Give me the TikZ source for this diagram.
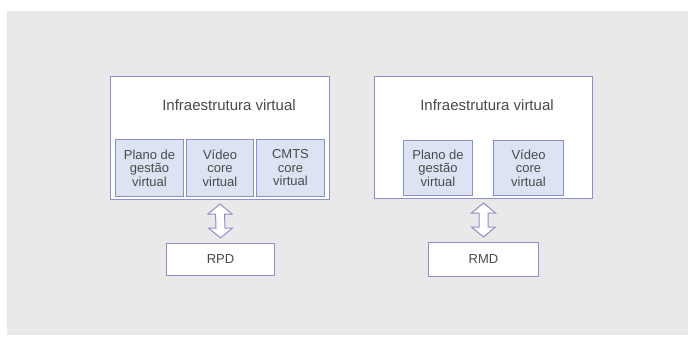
\documentclass[tikz,border=0pt]{standalone}
\usepackage{fontspec}
\setmainfont{Liberation Sans}
\usetikzlibrary{calc}
\definecolor{bg}{HTML}{E9E9E9}
\definecolor{bord}{HTML}{8C90C8}
\definecolor{subfill}{HTML}{DCE4F3}
\definecolor{txt}{HTML}{4A4A4A}
\begin{document}
\begin{tikzpicture}[x=1pt,y=-1pt,
  outerbox/.style={draw=bord,fill=white,line width=1pt,anchor=north west,inner sep=0pt},
  subbox/.style={draw=bord,fill=subfill,line width=1pt,anchor=north west,inner sep=0pt,
    text=txt,font=\fontsize{13}{13.5}\selectfont,align=center},
  devbox/.style={draw=bord,fill=white,line width=1pt,anchor=north west,inner sep=0pt,
    text=txt,font=\fontsize{13}{14}\selectfont},
  title/.style={text=txt,font=\fontsize{15}{16}\selectfont,inner sep=0pt},
  dblarrow/.style={draw=bord,fill=white,line width=1pt,line join=miter}]
\useasboundingbox (0,0) rectangle (688,337);
\fill[bg] (7,11) rectangle (688,335);
% left
\node[outerbox,minimum width=219pt,minimum height=123pt] (L) at (110,76) {};
\node[title] (Lt) at (229,105) {Infraestrutura virtual};
\node[subbox,minimum width=68pt,minimum height=57pt] (L1) at (115,139) {Plano de\\gestão\\virtual};
\node[subbox,minimum width=67pt,minimum height=57pt] (L2) at (186,139) {Vídeo\\core\\virtual};
\node[subbox,minimum width=68pt,minimum height=57pt] (L3) at (256,139) {CMTS\\core\\virtual};
\node[devbox,minimum width=108pt,minimum height=32pt] (RPD) at (166,243) {RPD};
% right
\node[outerbox,minimum width=218pt,minimum height=122pt] (R) at (374,76) {};
\node[title] (Rt) at (487,105) {Infraestrutura virtual};
\node[subbox,minimum width=69pt,minimum height=55pt] (R1) at (403,140) {Plano de\\gestão\\virtual};
\node[subbox,minimum width=70pt,minimum height=55pt] (R2) at (493,140) {Vídeo\\core\\virtual};
\node[devbox,minimum width=110pt,minimum height=34pt] (RMD) at (428,242) {RMD};
% arrows
\foreach \a/\b in {L/RPD,R/RMD}{
  \coordinate (top) at ($(\a.south)+(0,4)$);
  \coordinate (bot) at ($(\b.north)+(0,-5)$);
  \draw[dblarrow] (top) -- ++(12,10) -- ++(-7.5,0) -- ($(bot)+(4.5,-10)$) -- ++(7.5,0)
    -- (bot) -- ++(-12,-10) -- ++(7.5,0) -- ($(top)+(-4.5,10)$) -- ++(-7.5,0) -- cycle;
}
\end{tikzpicture}
\end{document}
